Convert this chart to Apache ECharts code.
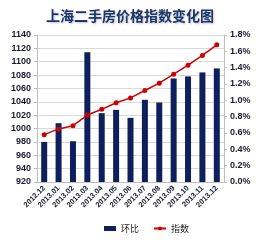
<!DOCTYPE html>
<html><head><meta charset="utf-8">
<script src="https://cdn.jsdelivr.net/npm/echarts@6/dist/echarts.min.js"></script>
<style>html,body{margin:0;padding:0;background:#fff}#c{width:260px;height:240px}</style>
</head><body><div id="c"></div>
<script>
const categories = ['2012.12','2013.01','2013.02','2013.03','2013.04','2013.05','2013.06','2013.07','2013.08','2013.09','2013.10','2013.11','2013.12'];
const barValues = [980, 1008, 981, 1114, 1023, 1028, 1016, 1043, 1039, 1075, 1078, 1084, 1090];
const lineValues = [0.58, 0.65, 0.69, 0.82, 0.89, 0.97, 1.03, 1.12, 1.21, 1.32, 1.43, 1.55, 1.68];
const barName = '环比';
const lineName = '指数';
const titleText = '上海二手房价格指数变化图';

const chart = echarts.init(document.getElementById('c'), null, {renderer: 'canvas'});
const lblFont = {fontFamily: 'Liberation Sans, Arial, sans-serif', fontWeight: 'bold', color: '#1a1a2e'};
chart.setOption({
  animation: false,
  title: {text: titleText, left: 'center', top: 4,
    textStyle: {fontSize: 14, fontWeight: 'bold', color: '#1C356C', fontFamily: 'Noto Sans CJK SC',
      textShadowColor: 'rgba(0,0,0,0.25)', textShadowBlur: 2, textShadowOffsetX: 1, textShadowOffsetY: 1}},
  grid: {left: 37, right: 36, top: 35, bottom: 58},
  legend: {bottom: 2, left: 99, itemGap: 14, itemWidth: 12, itemHeight: 5,
    textStyle: {fontSize: 9, fontFamily: 'Noto Sans CJK SC', color: '#222'},
    data: [{name: barName, icon: 'rect'}, {name: lineName}]},
  xAxis: {type: 'category', data: categories,
    axisLine: {lineStyle: {color: '#bfbfbf'}}, axisTick: {show: false},
    axisLabel: Object.assign({rotate: 45, fontSize: 7.5, interval: 0, margin: 5}, lblFont)},
  yAxis: [
    {type: 'value', min: 920, max: 1140, interval: 20,
      axisLine: {show: true, lineStyle: {color: '#bfbfbf'}}, axisTick: {show: true, length: 3, lineStyle: {color: '#bfbfbf'}},
      splitLine: {lineStyle: {color: '#d9d9d9'}},
      axisLabel: Object.assign({fontSize: 9, margin: 6, formatter: v => String(v)}, lblFont)},
    {type: 'value', min: 0, max: 1.8, interval: 0.2,
      axisLine: {show: true, lineStyle: {color: '#bfbfbf'}}, axisTick: {show: true, length: 3, lineStyle: {color: '#bfbfbf'}},
      splitLine: {show: false},
      axisLabel: Object.assign({fontSize: 9, margin: 6, formatter: v => v.toFixed(1) + '%'}, lblFont)}
  ],
  series: [
    {name: barName, type: 'bar', yAxisIndex: 0, data: barValues, barWidth: 6,
      itemStyle: {color: '#0F1F5C'}},
    {name: lineName, type: 'line', yAxisIndex: 1, data: lineValues, symbol: 'circle', symbolSize: 5,
      lineStyle: {color: '#D00000', width: 1.5}, itemStyle: {color: '#D00000'}}
  ]
});
</script></body></html>
